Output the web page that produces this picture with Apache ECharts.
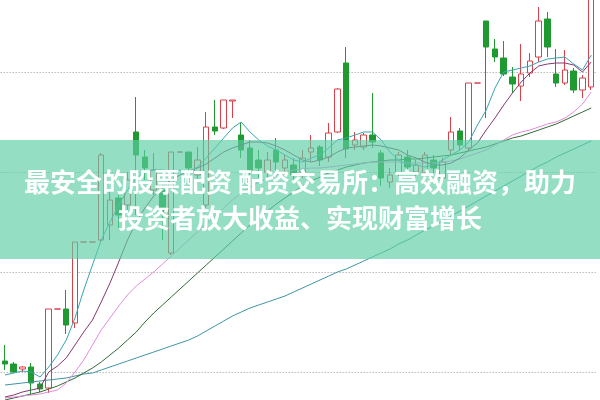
<!DOCTYPE html>
<html><head><meta charset="utf-8">
<script src="https://cdn.jsdelivr.net/npm/echarts@6/dist/echarts.min.js"></script>
<style>html,body{margin:0;padding:0;background:#fff}#c{width:600px;height:400px}</style>
</head><body><div id="c"></div>
<script>
// candles: [open, close, low, high]
const candles = [
[11.1,10.8,10.2,12.7],[10.8,10.0,9.9,11.0],[10.3,10.5,10.0,10.6],[10.5,8.9,7.7,10.9],[8.8,8.3,8.0,9.0],
[8.4,16.3,7.9,16.3],[16.3,16.3,16.3,16.3],[16.3,14.7,13.8,18.2],[14.9,23.0,14.4,23.0],[23.0,23.0,23.0,23.0],
[23.0,23.0,23.0,23.0],[23.2,31.7,23.0,31.9],[24.7,27.2,23.2,28.2],[27.4,25.7,24.4,27.7],[26.7,29.2,26.2,30.0],
[34.0,31.7,25.7,37.5],[31.5,30.4,29.2,32.2],[28.2,30.2,27.7,31.9],[28.2,26.0,23.2,29.0],[21.9,32.0,21.7,32.0],
[32.0,32.0,32.0,32.0],[32.0,30.4,30.0,32.0],[29.7,31.2,29.2,32.5],[26.7,34.5,26.4,36.0],[34.5,34.1,33.7,37.2],
[34.4,37.2,34.3,37.2],[37.1,37.2,35.4,37.2],[33.7,32.2,31.4,35.0],[32.4,30.2,29.7,33.2],[31.2,30.4,29.4,32.2],
[30.0,31.2,29.2,32.0],[32.2,31.0,30.0,33.4],[30.4,31.2,29.7,31.7],[30.7,29.7,29.0,31.4],[30.0,31.4,29.4,32.2],
[32.0,32.4,31.0,33.7],[32.5,31.2,30.6,32.7],[31.5,33.9,31.0,34.9],[34.0,38.3,33.9,38.4],[40.9,32.3,31.4,42.5],
[32.7,33.2,32.2,34.0],[32.5,33.7,32.2,33.9],[33.7,33.0,32.4,37.9],[31.9,29.4,28.6,32.2],[29.0,29.7,28.4,30.4],
[29.9,31.7,29.6,32.0],[31.5,30.5,30.0,32.2],[30.0,30.7,29.4,31.2],[29.9,31.7,29.2,32.0],[31.2,30.4,29.7,31.7],
[29.4,31.0,29.0,31.4],[32.2,34.0,31.7,35.5],[34.1,32.7,32.2,34.4],[32.4,38.9,32.2,38.9],[38.9,38.9,38.9,38.9],
[45.1,42.5,35.4,45.1],[42.3,41.5,41.0,43.3],[41.4,39.8,39.6,43.1],[39.5,38.8,37.9,40.5],[38.6,39.8,37.1,42.8],
[39.9,41.1,39.5,41.9],[41.5,45.1,41.0,46.5],[45.3,42.5,41.5,46.0],[39.8,38.9,38.5,42.3],[38.9,40.2,38.7,42.2],
[40.1,38.2,37.9,40.4],[38.2,39.4,37.4,39.7],[38.5,47.7,38.2,48.2]
];
const ma5 = [9.7,9.9,10.1,10.0,9.5,10.5,11.7,13.2,15.4,18.2,20.7,23.2,25.0,26.7,28.2,29.4,30.0,30.2,30.2,30.0,
30.2,30.0,30.5,31.4,32.4,33.4,34.4,35.0,34.0,33.2,32.6,32.2,31.7,31.2,31.0,31.4,31.7,32.4,33.2,33.4,
33.7,34.0,34.0,33.2,32.0,31.2,30.7,30.7,30.5,30.7,31.2,31.7,32.2,33.0,34.7,36.2,38.4,40.0,40.2,40.4,
40.6,41.0,41.3,41.4,41.5,40.8,40.2,41.7];
const ma10 = [7.5,7.7,8.0,8.2,8.4,10.0,10.6,11.4,12.7,14.0,15.2,17.0,18.9,21.0,23.2,25.0,26.4,27.6,28.5,29.2,
29.7,30.1,30.4,30.8,31.4,32.0,32.4,32.7,33.0,33.0,32.9,32.6,32.2,31.7,31.2,31.0,31.2,31.5,32.0,32.4,
32.5,32.6,32.7,32.6,32.4,32.2,31.7,31.4,31.0,30.7,30.7,30.9,31.4,32.2,32.9,34.2,35.4,36.7,37.9,39.0,
39.9,40.6,40.8,40.9,40.9,40.7,40.0,41.0];
const ma20 = [7.4,7.5,7.6,7.7,7.8,8.0,8.2,8.9,10.0,11.2,12.7,14.2,15.4,16.6,17.7,18.6,19.3,20.0,20.8,21.6,
22.4,23.2,24.0,24.8,25.6,26.4,27.2,27.9,28.5,29.0,29.4,29.7,30.0,30.2,30.3,30.4,30.4,30.5,30.6,30.7,
30.8,30.9,31.0,31.0,31.0,31.0,30.9,30.9,30.9,30.9,31.0,31.1,31.3,31.6,31.9,32.2,32.7,33.2,33.7,34.0,
34.2,34.5,34.8,35.0,35.4,36.0,36.8,38.0];
const ma30 = [7.2,7.4,7.6,7.8,8.0,8.3,8.6,9.0,9.4,9.9,10.4,11.0,11.7,12.4,13.2,14.0,15.0,15.9,16.7,17.5,
18.3,19.1,19.9,20.7,21.5,22.3,23.1,23.9,24.7,25.4,26.1,26.8,27.4,28.0,28.6,29.1,29.5,29.9,30.2,30.5,
30.7,30.9,31.0,31.1,31.2,31.2,31.3,31.3,31.4,31.5,31.6,31.7,31.9,32.1,32.3,32.5,32.8,33.1,33.4,33.6,
33.9,34.2,34.5,34.8,35.2,35.6,36.0,36.4];
const ma120 = [8.7,8.8,8.9,9.0,9.1,9.2,9.3,9.4,9.6,9.8,9.9,10.2,10.5,10.8,11.1,11.4,11.7,12.0,12.3,12.6,
12.9,13.2,13.6,14.1,14.6,15.1,15.6,16.0,16.4,16.7,17.0,17.3,17.6,18.0,18.4,18.8,19.2,19.6,20.0,20.3,
20.7,21.1,21.5,21.9,22.3,22.8,23.2,23.7,24.2,24.6,25.1,25.6,26.1,26.6,27.1,27.6,28.1,28.6,29.1,29.6,
30.1,30.6,31.0,31.5,31.9,32.3,32.7,33.1];
const categories = candles.map((_, i) => String(i + 1));
const yTicks = [10, 20, 30, 40];
const titleLines = ['最安全的股票配资 配资交易所：高效融资，助力', '投资者放大收益、实现财富增长'];

const chart = echarts.init(document.getElementById('c'), null, {renderer: 'canvas'});
function ma(name, data, color) {
  return {name, type: 'line', data, symbol: 'none', clip: false, smooth: false,
    lineStyle: {color, width: 1}, z: 3, silent: true};
}
chart.setOption({
  animation: false,
  backgroundColor: '#fff',
  grid: {left: 0.625, right: 4.4, top: 72, bottom: 28},
  xAxis: {type: 'category', data: categories, boundaryGap: true,
    axisLine: {show: false}, axisTick: {show: false}, axisLabel: {show: false}, splitLine: {show: false}},
  yAxis: {type: 'value', min: yTicks[0], max: yTicks[yTicks.length - 1], interval: 10,
    axisLine: {show: false}, axisTick: {show: false}, axisLabel: {show: false},
    splitLine: {show: true, lineStyle: {color: '#9a9a9a', width: 1, type: [1, 2]}}},
  series: [
    {type: 'candlestick', data: candles, clip: false, barWidth: 6, z: 2,
      itemStyle: {color: '#ffffff', color0: '#1f9a30', borderColor: '#d8404a', borderColor0: '#1f9a30', borderWidth: 1}},
    ma('MA120', ma120, '#3f95a3'),
    ma('MA30', ma30, '#2f6b33'),
    ma('MA20', ma20, '#e58ade'),
    ma('MA10', ma10, '#84386f'),
    ma('MA5', ma5, '#3aa3b0')
  ],
  graphic: [
    {type: 'rect', left: 0, top: 140, shape: {x: 0, y: 0, width: 600, height: 119},
      style: {fill: 'rgba(92,206,166,0.66)'}, z: 100},
    {type: 'text', x: 300, y: 182, z: 101,
      style: {text: titleLines[0], fill: '#fff', font: 'bold 26px "Noto Sans CJK SC"', textAlign: 'center', textVerticalAlign: 'middle'}},
    {type: 'text', x: 300, y: 218, z: 101,
      style: {text: titleLines[1], fill: '#fff', font: 'bold 26px "Noto Sans CJK SC"', textAlign: 'center', textVerticalAlign: 'middle'}}
  ]
});
</script></body></html>
